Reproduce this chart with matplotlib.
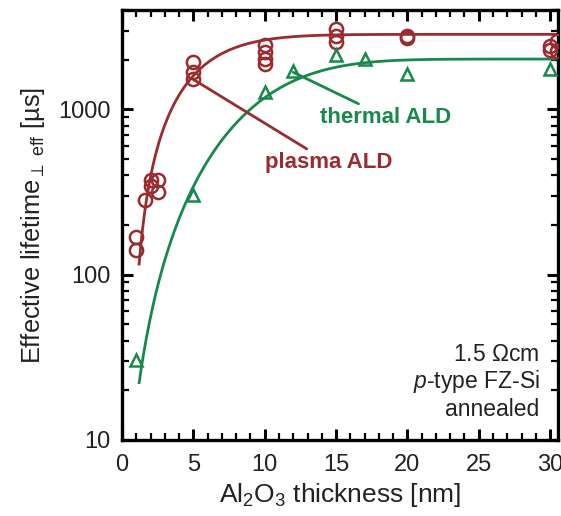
import matplotlib.pyplot as plt
import numpy as np
from matplotlib.ticker import MultipleLocator, LogLocator, NullFormatter

plt.rcParams['font.family'] = ['Liberation Sans', 'DejaVu Sans']
plt.rcParams['mathtext.fontset'] = 'custom'
plt.rcParams['mathtext.rm'] = 'Liberation Sans'
plt.rcParams['mathtext.it'] = 'Liberation Sans:italic'
plt.rcParams['mathtext.fallback'] = 'stixsans'

plasma_x = [1, 1, 1.6, 2, 2, 2.5, 2.5, 5, 5, 5, 10, 10, 10, 10, 15, 15, 15, 20, 20, 30, 30, 30.5, 30.5]
plasma_y = [170, 142, 285, 375, 345, 375, 315, 1930, 1680, 1520, 2450, 2230, 2010, 1880,
            3050, 2780, 2550, 2800, 2700, 2430, 2300, 2600, 2250]
thermal_x = [1, 5, 10, 12, 15, 17, 20, 30]
thermal_y = [30.5, 305, 1270, 1700, 2150, 2010, 1630, 1750]

# fit curves: tau = A * (1 - exp(-((d - d0) / L)**p))
plasma_fit = dict(A=2850, d0=0.6, L=5.0, p=1.5, start=1.2)
thermal_fit = dict(A=2020, d0=-0.5, L=11.1, p=2.4, start=1.2)

red = '#9c2b2f'
green = '#17894b'


def fit_curve(A, d0, L, p, start):
    d = np.linspace(start, 30.6, 400)
    return d, A * (1 - np.exp(-((d - d0) / L) ** p))


fig = plt.figure(figsize=(5.61, 5.16), dpi=100)
ax = fig.add_axes([0.2175, 0.1473, 0.777, 0.8333])

for fit, c in [(plasma_fit, red), (thermal_fit, green)]:
    d, tau = fit_curve(**fit)
    ax.plot(d, tau, color=c, lw=2, zorder=2)

ax.plot(plasma_x, plasma_y, 'o', mfc='none', mec=red, mew=1.8, ms=9.5, zorder=3)
ax.plot(thermal_x, thermal_y, '^', mfc='none', mec=green, mew=1.8, ms=8.5, zorder=3)

ax.annotate('plasma ALD', xy=(5.0, 1520), xytext=(10.0, 480), color=red,
            fontsize=16, fontweight='bold', va='center', ha='left',
            arrowprops=dict(arrowstyle='-', color=red, lw=2, shrinkA=0, shrinkB=0))
ax.annotate('thermal ALD', xy=(12.0, 1680), xytext=(13.9, 900), color=green,
            fontsize=16, fontweight='bold', va='center', ha='left',
            arrowprops=dict(arrowstyle='-', color=green, lw=2, shrinkA=0, shrinkB=0))

ax.text(0.958, 0.045, '1.5 $\\Omega$cm\n$\\mathit{p}$-type FZ-Si\nannealed',
        transform=ax.transAxes, ha='right', va='bottom', fontsize=16.5,
        color='#222222', linespacing=1.12)

ax.set_yscale('log')
ax.set_xlim(0, 30.55)
ax.set_ylim(10, 4000)
ax.xaxis.set_major_locator(MultipleLocator(5))
ax.xaxis.set_minor_locator(MultipleLocator(1))
ax.yaxis.set_major_locator(LogLocator(base=10))
ax.yaxis.set_minor_locator(LogLocator(base=10, subs=np.arange(2, 10)))
ax.yaxis.set_minor_formatter(NullFormatter())
ax.set_yticks([10, 100, 1000])
ax.set_yticklabels(['10', '100', '1000'])

ax.tick_params(which='both', direction='in', top=True, right=True, labelsize=17,
               labelcolor='#222222')
ax.tick_params(axis='x', pad=10)
ax.tick_params(axis='y', pad=8)
ax.tick_params(which='major', length=8, width=2.2)
ax.tick_params(which='minor', length=5, width=1.6)
for s in ax.spines.values():
    s.set_linewidth(2.4)

ax.set_xlabel('Al$_2$O$_3$ thickness [nm]', fontsize=19, color='#222222', labelpad=4)
ax.set_ylabel('Effective lifetime$_{\\perp\\ \\mathrm{eff}}$ [µs]', fontsize=18.3,
              color='#222222', labelpad=8)

fig.savefig('out.png', dpi=100)
